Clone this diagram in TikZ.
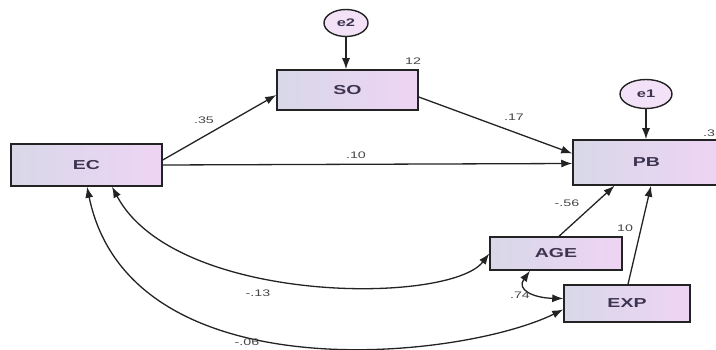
\documentclass[tikz,border=0pt]{standalone}
\usepackage{fontspec}
\setmainfont{Liberation Sans}
\newfontfamily\widefont[FakeStretch=1.5]{Liberation Sans}
\usetikzlibrary{arrows.meta,shapes.geometric}
\definecolor{boxleft}{RGB}{216,216,232}
\definecolor{boxright}{RGB}{238,212,244}
\definecolor{edgegray}{RGB}{35,35,35}
\definecolor{txtcol}{RGB}{60,52,80}
\definecolor{lblcol}{RGB}{70,70,70}
\tikzset{
  var/.style={draw=edgegray, line width=1.5pt, left color=boxleft, right color=boxright,
    font=\widefont\fontsize{13}{14}\selectfont\bfseries, text=txtcol, inner sep=0pt},
  err/.style={ellipse, draw=edgegray, line width=1.4pt, fill=boxright!70!white,
    font=\widefont\fontsize{11}{12}\selectfont\bfseries, text=txtcol, inner sep=0pt},
  path/.style={draw=edgegray, line width=1.3pt, -{Latex[length=11pt,width=8pt]}},
  cov/.style={draw=edgegray, line width=1.3pt, {Latex[length=11pt,width=8pt]}-{Latex[length=11pt,width=8pt]}},
  lbl/.style={font=\widefont\fontsize{9.5}{10}\selectfont, text=lblcol, inner sep=0pt}
}
\begin{document}
\begin{tikzpicture}[x=1pt,y=-1pt]
\useasboundingbox (0,0) rectangle (716,350);
% boxes
\node[var, minimum width=151pt, minimum height=42pt] (ec) at (86.5,165) {EC};
\node[var, minimum width=141pt, minimum height=40pt] (so) at (347.5,90) {SO};
\node[var, minimum width=147pt, minimum height=45pt] (pb) at (646.5,162.5) {PB};
\node[var, minimum width=132pt, minimum height=33pt] (age) at (556,253.5) {AGE};
\node[var, minimum width=126pt, minimum height=37pt] (exp) at (627,303.5) {EXP};
% error terms
\node[err, minimum width=44pt, minimum height=27pt] (e2) at (346,23) {e2};
\node[err, minimum width=52pt, minimum height=29pt] (e1) at (646,94) {e1};
% paths
\draw[path] (e2.south) -- (e2.south |- so.north);
\draw[path] (e1.south) -- (e1.south |- pb.north);
\draw[path] ([yshift=5pt]ec.east) -- ([yshift=-5pt]so.west);
\draw[path] ([yshift=-7pt]so.east) -- ([yshift=9pt]pb.west);
\draw[path] (ec.east) -- ([yshift=-1pt]pb.west);
\draw[path] ([xshift=3pt]age.north) -- ([xshift=-32pt]pb.south);
\draw[path] ([xshift=1pt]exp.north) -- ([xshift=4.5pt]pb.south);
% covariances
\draw[cov] ([xshift=25.5pt]ec.south) .. controls (175,305) and (450,305) .. (age.west);
\draw[cov] ([xshift=0.5pt]ec.south) .. controls (130,395) and (460,360) .. ([yshift=-6pt]exp.west);
\draw[cov] ([xshift=-26pt]age.south) .. controls (516,290) and (534,298) .. ([yshift=5pt]exp.west);
% labels
\node[lbl] (l12) at (413,61) {12};
\node[lbl] (l3) at (709,133) {.3};
\node[lbl] (l35) at (204,120) {.35};
\node[lbl] (l17) at (514,117) {.17};
\node[lbl] (l10) at (356,155) {.10};
\node[lbl] (l56) at (567,203) {-.56};
\node[lbl] (l10b) at (625,228) {10};
\node[lbl] (l74) at (520,295) {.74};
\node[lbl] (l13) at (258,293) {-.13};
\node[lbl] (l06) at (247,342) {-.06};
\end{tikzpicture}
\end{document}
